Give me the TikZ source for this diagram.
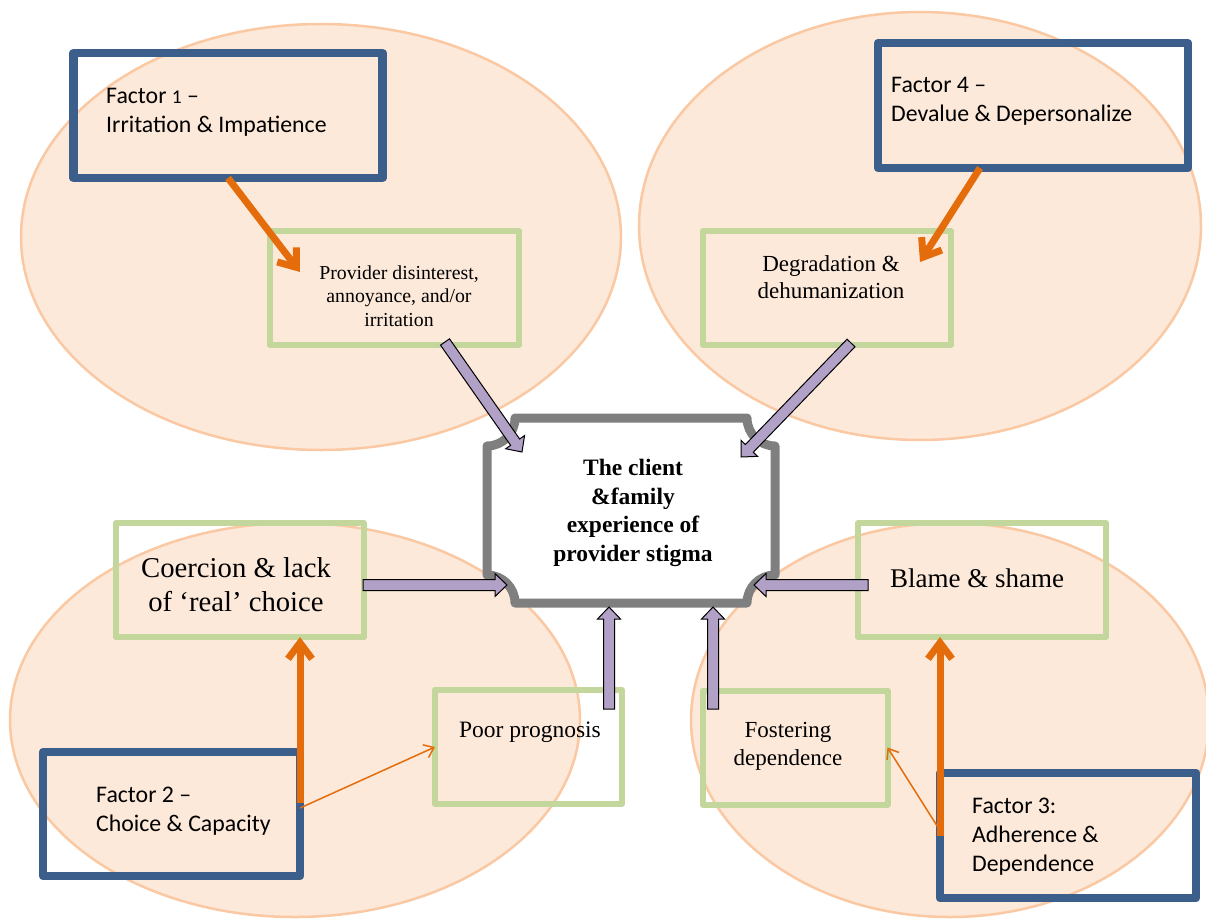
\documentclass[tikz,border=0pt]{standalone}
\usepackage{fontspec}
\setmainfont{Liberation Serif}
\newfontfamily\calib{Carlito}
\usetikzlibrary{arrows.meta,calc}
\definecolor{ellF}{HTML}{FDE9DA}
\definecolor{ellB}{HTML}{FAC8A2}
\definecolor{fblue}{HTML}{3B5E8B}
\definecolor{ggreen}{HTML}{C3D69B}
\definecolor{orng}{HTML}{E46C0A}
\definecolor{purp}{HTML}{B2A1C7}
\definecolor{cgray}{HTML}{7F7F7F}
\newcommand\blockarr[2]{%
  \coordinate (#1h) at ($(#2)!12pt!(#1)$);
  \draw[parr] ($(#1)!5.5pt!90:(#2)$) -- ($(#1h)!5.5pt!-90:(#1)$) -- ($(#1h)!11.5pt!-90:(#1)$) -- (#2) -- ($(#1h)!11.5pt!90:(#1)$) -- ($(#1h)!5.5pt!90:(#1)$) -- ($(#1)!5.5pt!-90:(#2)$) -- cycle;}
\begin{document}
\begin{tikzpicture}[x=1pt,y=-1pt,
 ell/.style={draw=ellB, fill=ellF, line width=2.5pt},
 fbox/.style={draw=fblue, line width=8.5pt, line join=round, rectangle, inner sep=0pt, outer sep=0pt},
 gbox/.style={draw=ggreen, line width=6pt, line join=round, rectangle, inner sep=0pt, outer sep=0pt},
 ftext/.style={font=\calib\fontsize{23.8}{29}\selectfont, align=left, inner sep=0pt, anchor=west},
 gtext/.style={align=center, inner sep=0pt},
 ctext/.style={font=\bfseries\fontsize{23.5}{28.5}\selectfont, align=center, inner sep=0pt},
 cbox/.style={draw=cgray, line width=9pt, fill=white, line join=round},
 obig/.style={draw=orng, line width=7pt, -{Straight Barb[length=16pt,width=24pt]}},
 othin/.style={draw=orng, line width=1.5pt, -{Straight Barb[length=9pt,width=14pt]}},
 parr/.style={draw=black, fill=purp, line width=1pt, line join=miter}]
\useasboundingbox (0,0) rectangle (1206,920);
\clip (0,0) rectangle (1206,920);
% ellipses
\draw[ell] (321,237) ellipse [x radius=300pt, y radius=213pt];
\draw[ell] (920,226) ellipse [x radius=281pt, y radius=214pt];
\draw[ell] (295,720) ellipse [x radius=285pt, y radius=197pt];
\draw[ell] (950,720) ellipse [x radius=259pt, y radius=197pt];
% factor boxes
\node[fbox, minimum width=309pt, minimum height=125pt] (f1) at (228,115.5) {};
\node[fbox, minimum width=310pt, minimum height=125pt] (f4) at (1033,105.5) {};
\node[fbox, minimum width=257pt, minimum height=124pt] (f2) at (171.5,814) {};
\node[fbox, minimum width=256pt, minimum height=125pt] (f3) at (1068,835.5) {};
\node[ftext] (f1t) at (106,112) {Factor {\fontsize{19.5}{19.5}\selectfont 1} –\\Irritation \& Impatience};
\node[ftext] (f4t) at (891,101) {Factor 4 –\\Devalue \& Depersonalize};
\node[ftext] (f2t) at (96,811) {Factor 2 –\\Choice \& Capacity};
\node[ftext] (f3t) at (972,837) {Factor 3:\\Adherence \&\\Dependence};
% green boxes
\node[gbox, minimum width=249pt, minimum height=114pt] (prov) at (394.5,288) {};
\node[gbox, minimum width=248pt, minimum height=114pt] (deg) at (827,288) {};
\node[gbox, minimum width=248pt, minimum height=114pt] (coer) at (240,580) {};
\node[gbox, minimum width=248pt, minimum height=114pt] (blame) at (982,580) {};
\node[gbox, minimum width=187pt, minimum height=114pt] (poor) at (528.5,747) {};
\node[gbox, minimum width=185pt, minimum height=114pt] (fost) at (795,747.5) {};
\node[gtext, font=\fontsize{19.8}{23.5}\selectfont] (provt) at (399,296) {Provider disinterest,\\annoyance, and/or\\irritation};
\node[gtext, font=\fontsize{23}{27}\selectfont] (degt) at (831,277) {Degradation \&\\dehumanization};
\node[gtext, font=\fontsize{28.7}{34}\selectfont] (coert) at (236,585) {Coercion \& lack\\of ‘real’ choice};
\node[gtext, font=\fontsize{27}{32}\selectfont] (blamet) at (977,578) {Blame \& shame};
\node[gtext, font=\fontsize{23.5}{28}\selectfont] (poort) at (530,732) {Poor prognosis};
\node[gtext, font=\fontsize{23}{28}\selectfont] (fostt) at (788,746) {Fostering\\dependence};
% central box
\draw[cbox] (515,418) -- (747,418) .. controls (747,433.5) and (759.5,446) .. (775,446)
  -- (775,575) .. controls (759.5,575) and (747,587.5) .. (747,603)
  -- (515,603) .. controls (515,587.5) and (502.5,575) .. (487,575)
  -- (487,446) .. controls (502.5,446) and (515,433.5) .. (515,418) -- cycle;
\node[ctext] (cen) at (633,513) {The client\\\&family\\experience of\\provider stigma};
% orange arrows
\coordinate (o1e) at (300,272);
\coordinate (o4e) at (920,262);
\draw[obig] (f1.south) -- (o1e);
\draw[obig] ([xshift=-53pt]f4.south) -- (o4e);
\draw[obig] ([yshift=11pt]f2.east) -- (f2.east |- coer.south);
\draw[othin] ([yshift=6pt]f2.east) -- (poor.west);
\draw[obig] (f3.west) -- (f3.west |- blame.south);
\draw[othin] ([yshift=5pt]f3.west) -- (fost.east);
% purple block arrows
\coordinate (p1s) at (445,342);
\coordinate (p1e) at (522,452);
\coordinate (p2s) at (851,343);
\coordinate (p2e) at (741,457);
\coordinate (p3s) at (363,585);
\coordinate (p3e) at (507,585);
\coordinate (p4s) at (868,585);
\coordinate (p4e) at (754,585);
\coordinate (p5s) at (609,709);
\coordinate (p5e) at (609,607);
\coordinate (p6s) at (713,709);
\coordinate (p6e) at (713,607);
\blockarr{p1s}{p1e}
\blockarr{p2s}{p2e}
\blockarr{p3s}{p3e}
\blockarr{p4s}{p4e}
\blockarr{p5s}{p5e}
\blockarr{p6s}{p6e}
\end{tikzpicture}
\end{document}
